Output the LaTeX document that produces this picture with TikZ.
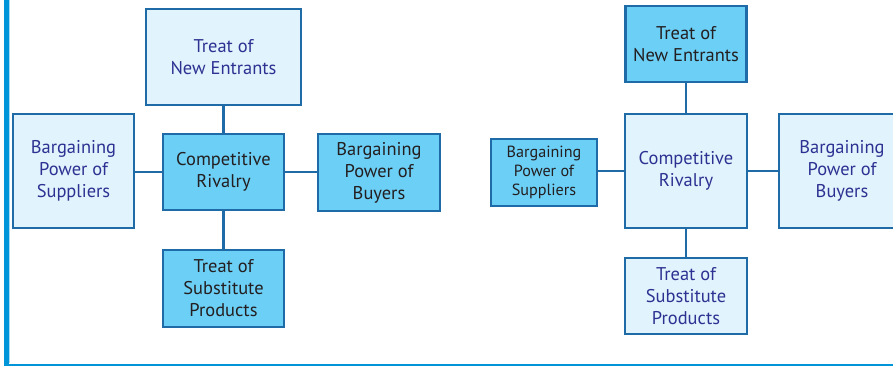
\documentclass[tikz,border=0pt]{standalone}
\usepackage{fontspec}
\setmainfont{PT Sans}
\usetikzlibrary{positioning}

\definecolor{framecol}{HTML}{1F6BA8}
\definecolor{lightfill}{HTML}{E1F3FC}
\definecolor{darkfill}{HTML}{6CCFF6}
\definecolor{navytext}{HTML}{2E3192}
\definecolor{darktext}{HTML}{231F20}
\definecolor{barblue}{HTML}{0094D8}
\definecolor{barlight}{HTML}{A6DCF5}

\tikzset{
  force/.style={draw=framecol, line width=1.2pt, align=center, inner sep=1pt,
    font=\fontsize{10.5}{12.5}\selectfont},
  lightforce/.style={force, fill=lightfill, text=navytext},
  darkforce/.style={force, fill=darkfill, text=darktext},
  link/.style={draw=framecol, line width=1.2pt}
}

\begin{document}
\begin{tikzpicture}[x=0.02cm, y=-0.02cm]
    \clip (0,0) rectangle (893,367);
    \useasboundingbox (0,0) rectangle (893,367);

    % Frame on the left and at the bottom
    \fill[barblue]  (4,0) rectangle (9,366);
    \fill[barlight] (9,0) rectangle (10,363);
    \fill[barblue]  (9,364) rectangle (893,366);

    % First model: rivalry in the middle
    \node[lightforce, minimum width=3.10cm, minimum height=1.92cm] (entrantsA) at (223.5,57)  {Treat of\\New Entrants};
    \node[lightforce, minimum width=2.42cm, minimum height=2.28cm] (suppliersA) at (73.5,171) {Bargaining\\Power of\\Suppliers};
    \node[darkforce,  minimum width=2.42cm, minimum height=1.52cm] (rivalryA) at (223.5,172)  {Competitive\\Rivalry};
    \node[darkforce,  minimum width=2.44cm, minimum height=1.54cm] (buyersA) at (379,172.5)   {Bargaining\\Power of\\Buyers};
    \node[darkforce,  minimum width=2.42cm, minimum height=1.54cm] (substA) at (223.5,288.5)  {Treat of\\Substitute\\Products};

    \draw[link] (rivalryA.north) -- (rivalryA.north |- entrantsA.south);
    \draw[link] (rivalryA.south) -- (rivalryA.south |- substA.north);
    \draw[link] (rivalryA.west)  -- (rivalryA.west -| suppliersA.east);
    \draw[link] (rivalryA.east)  -- (rivalryA.east -| buyersA.west);

    % Second model
    \node[darkforce,  minimum width=2.42cm, minimum height=1.52cm] (entrantsB) at (686,44)   {Treat of\\New Entrants};
    \node[darkforce,  minimum width=2.12cm, minimum height=1.34cm,
          font=\fontsize{9.2}{10.8}\selectfont] (suppliersB) at (544,172.5)             {Bargaining\\Power of\\Suppliers};
    \node[lightforce, minimum width=2.44cm, minimum height=2.28cm] (rivalryB) at (686,171)  {Competitive\\Rivalry};
    \node[lightforce, minimum width=2.52cm, minimum height=2.28cm] (buyersB) at (842,171)   {Bargaining\\Power of\\Buyers};
    \node[lightforce, minimum width=2.44cm, minimum height=1.52cm] (substB) at (686,296)    {Treat of\\Substitute\\Products};

    \draw[link] (rivalryB.north) -- (rivalryB.north |- entrantsB.south);
    \draw[link] (rivalryB.south) -- (rivalryB.south |- substB.north);
    \draw[link] (rivalryB.west)  -- (rivalryB.west -| suppliersB.east);
    \draw[link] (rivalryB.east)  -- (rivalryB.east -| buyersB.west);
\end{tikzpicture}
\end{document}
